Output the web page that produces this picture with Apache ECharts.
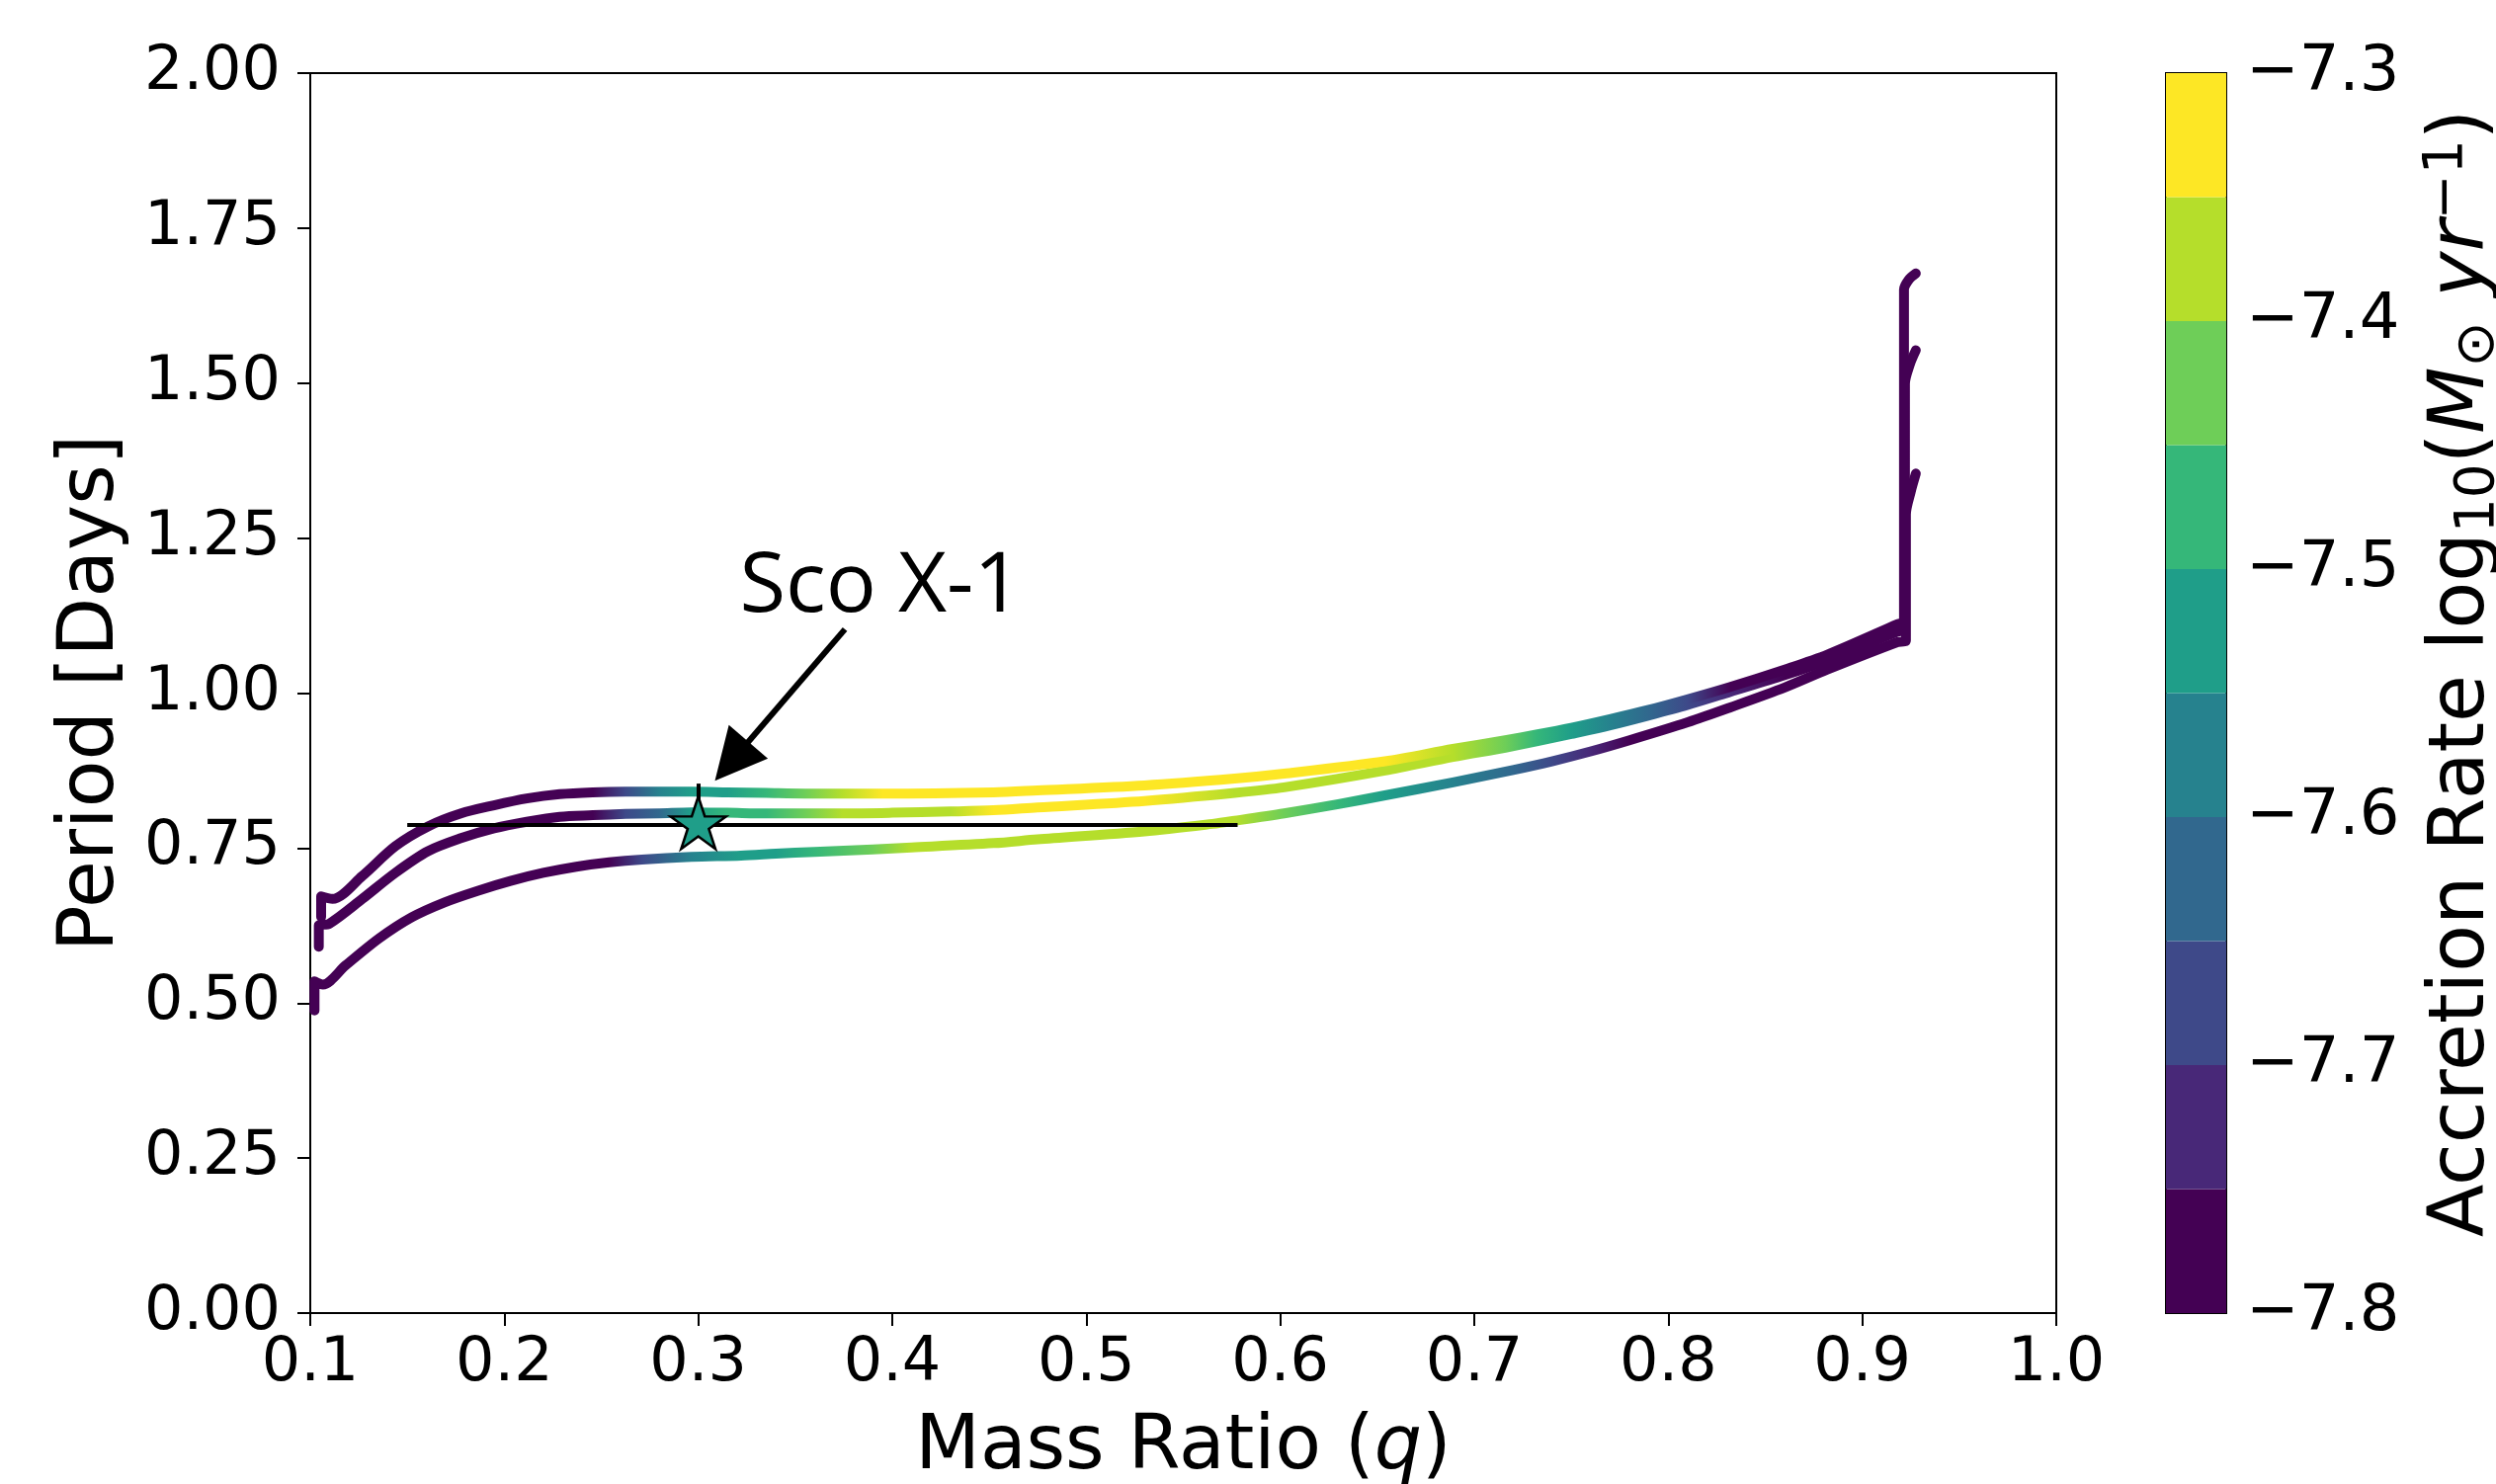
<!DOCTYPE html>
<html><head><meta charset="utf-8">
<script src="https://cdn.jsdelivr.net/npm/echarts@6/dist/echarts.min.js"></script>
<style>html,body{margin:0;padding:0;background:#fff}#c{width:2526px;height:1502px}</style>
</head><body><div id="c"></div>
<script>
// ---- data: [q, period (days), log10 accretion rate] ----
const trackA = [
[0.1056,0.639,-7.90],[0.1056,0.672,-7.90],[0.1115,0.668,-7.90],[0.1268,0.705,-7.90],[0.1438,0.753,-7.90],
[0.1607,0.785,-7.90],[0.1777,0.806,-7.90],[0.1947,0.819,-7.90],[0.2116,0.830,-7.88],[0.2286,0.837,-7.84],
[0.2456,0.840,-7.77],[0.2625,0.841,-7.67],[0.2800,0.841,-7.59],[0.2965,0.841,-7.54],[0.3150,0.840,-7.51],
[0.3350,0.839,-7.47],[0.3550,0.838,-7.43],[0.3744,0.838,-7.38],[0.3950,0.838,-7.34],[0.4522,0.840,-7.31],
[0.4748,0.843,-7.31],[0.5300,0.851,-7.31],[0.5765,0.862,-7.32],[0.6020,0.870,-7.32],[0.6540,0.890,-7.33],
[0.6890,0.910,-7.37],[0.7160,0.924,-7.42],[0.7320,0.933,-7.46],[0.7500,0.944,-7.52],[0.7700,0.958,-7.56],
[0.7900,0.973,-7.61],[0.8100,0.990,-7.66],[0.8320,1.010,-7.76],[0.8600,1.038,-7.86],[0.8820,1.062,-7.90],
[0.9180,1.111,-7.90],[0.9215,1.116,-7.90],[0.9215,1.651,-7.90],[0.9240,1.667,-7.90],[0.9276,1.677,-7.90]
];
const trackB = [
[0.1044,0.591,-7.90],[0.1044,0.625,-7.90],[0.1098,0.628,-7.90],[0.1268,0.668,-7.90],[0.1438,0.710,-7.90],
[0.1607,0.745,-7.90],[0.1777,0.766,-7.90],[0.1947,0.782,-7.90],[0.2116,0.7925,-7.88],[0.2286,0.8005,-7.85],
[0.2456,0.803,-7.78],[0.2625,0.805,-7.69],[0.2800,0.806,-7.61],[0.2965,0.8075,-7.55],[0.3150,0.807,-7.50],
[0.3350,0.806,-7.46],[0.3550,0.806,-7.42],[0.3744,0.806,-7.39],[0.4000,0.807,-7.37],[0.4300,0.809,-7.36],
[0.4522,0.811,-7.34],[0.4748,0.8155,-7.33],[0.5300,0.826,-7.33],[0.5765,0.839,-7.36],[0.6020,0.848,-7.37],
[0.6540,0.875,-7.38],[0.6890,0.897,-7.39],[0.7160,0.912,-7.43],[0.7320,0.922,-7.47],[0.7500,0.934,-7.52],
[0.7700,0.948,-7.56],[0.7900,0.964,-7.61],[0.8100,0.981,-7.67],[0.8320,1.002,-7.75],[0.8600,1.029,-7.85],
[0.8820,1.053,-7.90],[0.9180,1.099,-7.90],[0.9220,1.104,-7.90],[0.9220,1.499,-7.90],[0.9245,1.530,-7.90],
[0.9276,1.553,-7.90]
];
const trackC = [
[0.1022,0.488,-7.90],[0.1022,0.535,-7.90],[0.1065,0.530,-7.90],[0.1183,0.561,-7.90],[0.1353,0.604,-7.90],
[0.1523,0.6385,-7.90],[0.1692,0.6625,-7.90],[0.1862,0.681,-7.90],[0.2032,0.697,-7.90],[0.2201,0.710,-7.88],
[0.2371,0.720,-7.85],[0.2541,0.727,-7.80],[0.2710,0.7315,-7.70],[0.2965,0.7357,-7.60],[0.3220,0.738,-7.55],
[0.3400,0.741,-7.52],[0.3600,0.744,-7.48],[0.3900,0.748,-7.44],[0.4100,0.751,-7.39],[0.4522,0.758,-7.38],
[0.4748,0.764,-7.37],[0.5300,0.777,-7.37],[0.5650,0.789,-7.38],[0.5765,0.794,-7.39],[0.6020,0.806,-7.42],
[0.6300,0.821,-7.47],[0.6540,0.835,-7.52],[0.6890,0.856,-7.56],[0.7200,0.876,-7.62],[0.7400,0.890,-7.67],
[0.7600,0.906,-7.73],[0.7800,0.924,-7.79],[0.8100,0.953,-7.88],[0.8320,0.977,-7.90],[0.8600,1.009,-7.90],
[0.8820,1.038,-7.90],[0.9180,1.082,-7.90],[0.9225,1.085,-7.90],[0.9225,1.288,-7.90],[0.9250,1.325,-7.90],
[0.9276,1.354,-7.90]
];
const scoX1 = [0.30, 0.787];
const scoX1Rate = -7.53;
const scoX1ErrQ = [0.15, 0.578];
const scoX1ErrP = [0.787, 0.854];
const scoLabel = 'Sco X-1';
const scoLabelAt = [0.394, 1.17];
const arrowFrom = [0.3756, 1.103];
const arrowTo = [0.3172, 0.890];
const xRange = [0.1, 1.0], xStep = 0.1;
const yRange = [0, 2], yStep = 0.25;
const cbRange = [-7.8, -7.3], cbStep = 0.1, cbBins = 10;
const viridis10 = ['#440154','#482878','#3e4989','#31688e','#26828e','#1f9e89','#35b779','#6ece58','#b5de2b','#fde725'];

const FONT = 'DejaVu Sans';
const binW = (cbRange[1]-cbRange[0])/cbBins;
function rateColor(r){
  let i = Math.floor((r - cbRange[0])/binW + 1e-9);
  i = Math.max(0, Math.min(cbBins-1, i));
  return viridis10[i];
}
const cbData = viridis10.map((c,i)=>[cbRange[0]+i*binW, cbRange[0]+(i+1)*binW, i]);

function starPath(){
  const pts=[];
  for(let k=0;k<10;k++){
    const a = -Math.PI/2 + k*Math.PI/5;
    const r = (k%2===0)?1:0.381966;
    pts.push((r*Math.cos(a)).toFixed(4)+' '+(r*Math.sin(a)).toFixed(4));
  }
  return 'path://M'+pts.join(' L')+' Z';
}

const chart = echarts.init(document.getElementById('c'), null, {renderer:'canvas'});
const minus = s => s.replace('-', '\u2212');

function trackSeries(name, data){
  return {name, type:'line', xAxisIndex:0, yAxisIndex:0, data, showSymbol:false, symbol:'none',
    silent:true, smooth:0.3, z:2,
    lineStyle:{width:10, color:rateColor(data[0][2]), cap:'round', join:'round'}};
}

const option = {
  animation:false,
  backgroundColor:'#fff',
  textStyle:{fontFamily:FONT, color:'#000'},
  grid:[
    {left:314, top:74, width:1767, height:1255, show:true, borderColor:'#000', borderWidth:2,
     backgroundColor:'transparent', outerBoundsMode:'none', containLabel:false},
    {left:2192, top:74, width:61, height:1255, show:true, borderColor:'#000', borderWidth:2,
     backgroundColor:'transparent', outerBoundsMode:'none', containLabel:false}
  ],
  xAxis:[
    {type:'value', gridIndex:0, min:xRange[0], max:xRange[1], interval:xStep,
     axisLine:{show:true, onZero:false, lineStyle:{color:'#000', width:2}},
     axisTick:{show:true, inside:false, length:13, lineStyle:{color:'#000', width:2}},
     axisLabel:{show:true, fontSize:62, fontFamily:FONT, color:'#000', margin:21,
       showMinLabel:true, showMaxLabel:true, formatter:v=>v.toFixed(1)},
     splitLine:{show:false},
     name:'{n|Mass Ratio (}{i|q}{n|)}', nameLocation:'middle', nameGap:99,
     nameTextStyle:{rich:{n:{fontSize:76, fontFamily:FONT, color:'#000'},
                          i:{fontSize:76, fontFamily:FONT, fontStyle:'italic', color:'#000'}}}},
    {type:'value', gridIndex:1, min:0, max:1, show:false}
  ],
  yAxis:[
    {type:'value', gridIndex:0, min:yRange[0], max:yRange[1], interval:yStep,
     axisLine:{show:true, onZero:false, lineStyle:{color:'#000', width:2}},
     axisTick:{show:true, inside:false, length:13, lineStyle:{color:'#000', width:2}},
     axisLabel:{show:true, fontSize:62, fontFamily:FONT, color:'#000', margin:30,
       showMinLabel:true, showMaxLabel:true, formatter:v=>v.toFixed(2)},
     splitLine:{show:false},
     name:'Period [Days]', nameLocation:'middle', nameGap:181, nameRotate:90,
     nameTextStyle:{fontSize:78, fontFamily:FONT, color:'#000'}},
    {type:'value', gridIndex:1, position:'right', min:cbRange[0], max:cbRange[1], interval:cbStep,
     axisLine:{show:true, lineStyle:{color:'#000', width:2}},
     axisTick:{show:true, inside:false, length:12, lineStyle:{color:'#000', width:2}},
     axisLabel:{show:true, fontSize:64, fontFamily:FONT, color:'#000', margin:20,
       showMinLabel:true, showMaxLabel:true, formatter:v=>minus(v.toFixed(1))},
     splitLine:{show:false},
     name:'{n|Accretion Rate log}{s|10}{n|(}{i|M}{s|\u2299}{n| }{i|yr}{p|\u22121}{n|)}',
     nameLocation:'middle', nameGap:196, nameRotate:90,
     nameTextStyle:{padding:[0,0,0,40], rich:{
       n:{fontSize:78, fontFamily:FONT, color:'#000'},
       i:{fontSize:78, fontFamily:FONT, fontStyle:'italic', color:'#000'},
       s:{fontSize:55, fontFamily:FONT, color:'#000', padding:[32,0,0,0]},
       p:{fontSize:55, fontFamily:FONT, color:'#000', padding:[0,0,32,0]}}}}
  ],
  series:[
    trackSeries('C', trackC),
    trackSeries('B', trackB),
    trackSeries('A', trackA),
    {type:'lines', coordinateSystem:'cartesian2d', xAxisIndex:0, yAxisIndex:0, silent:true, z:5,
     polyline:false, symbol:['none','none'],
     lineStyle:{color:'#000', width:4, opacity:1, curveness:0},
     data:[{coords:[[scoX1ErrQ[0], scoX1[1]],[scoX1ErrQ[1], scoX1[1]]]},
           {coords:[[scoX1[0], scoX1ErrP[0]],[scoX1[0], scoX1ErrP[1]]]}]},
    {type:'lines', coordinateSystem:'cartesian2d', xAxisIndex:0, yAxisIndex:0, silent:true, z:6,
     symbol:['none','triangle'], symbolSize:[40,52],
     lineStyle:{color:'#000', width:6, opacity:1, curveness:0},
     itemStyle:{color:'#000'},
     data:[{coords:[arrowFrom, arrowTo]}]},
    {type:'scatter', xAxisIndex:0, yAxisIndex:0, silent:true, z:7,
     symbol:starPath(), symbolSize:[56,53], symbolOffset:[0,-2.5],
     itemStyle:{color:rateColor(scoX1Rate), borderColor:'#000', borderWidth:2.5, opacity:1},
     data:[scoX1]},
    {type:'scatter', xAxisIndex:0, yAxisIndex:0, silent:true, z:8,
     symbolSize:1, itemStyle:{color:'rgba(0,0,0,0)'},
     label:{show:true, position:'inside', formatter:scoLabel, fontSize:85, fontFamily:'Open Sans',
       fontWeight:'normal', color:'#000', textBorderWidth:0, opacity:1},
     data:[scoLabelAt]},
    {type:'custom', xAxisIndex:1, yAxisIndex:1, silent:true, z:1,
     encode:{x:-1, y:[0,1]},
     renderItem:(params, api)=>{
       const lo=api.value(0), hi=api.value(1);
       const p0=api.coord([0,lo]), p1=api.coord([1,hi]);
       return {type:'rect', shape:{x:p0[0], y:p1[1], width:p1[0]-p0[0], height:p0[1]-p1[1]},
               style:{fill:viridis10[api.value(2)]}};
     },
     data:cbData}
  ]
};
chart.setOption(option);

function gradFor(track){
  const px = track.map(p => chart.convertToPixel({gridIndex:0},[p[0],p[1]])[0]);
  const x0 = Math.min.apply(null, px), x1 = Math.max.apply(null, px);
  const stops = track.map((p,k)=>({offset:(px[k]-x0)/(x1-x0), color:rateColor(p[2])}))
    .sort((a,b)=>a.offset-b.offset);
  return new echarts.graphic.LinearGradient(x0,0,x1,0,stops,true);
}
chart.setOption({series:[
  {lineStyle:{color:gradFor(trackC)}},
  {lineStyle:{color:gradFor(trackB)}},
  {lineStyle:{color:gradFor(trackA)}}
]});
</script>
</body></html>
